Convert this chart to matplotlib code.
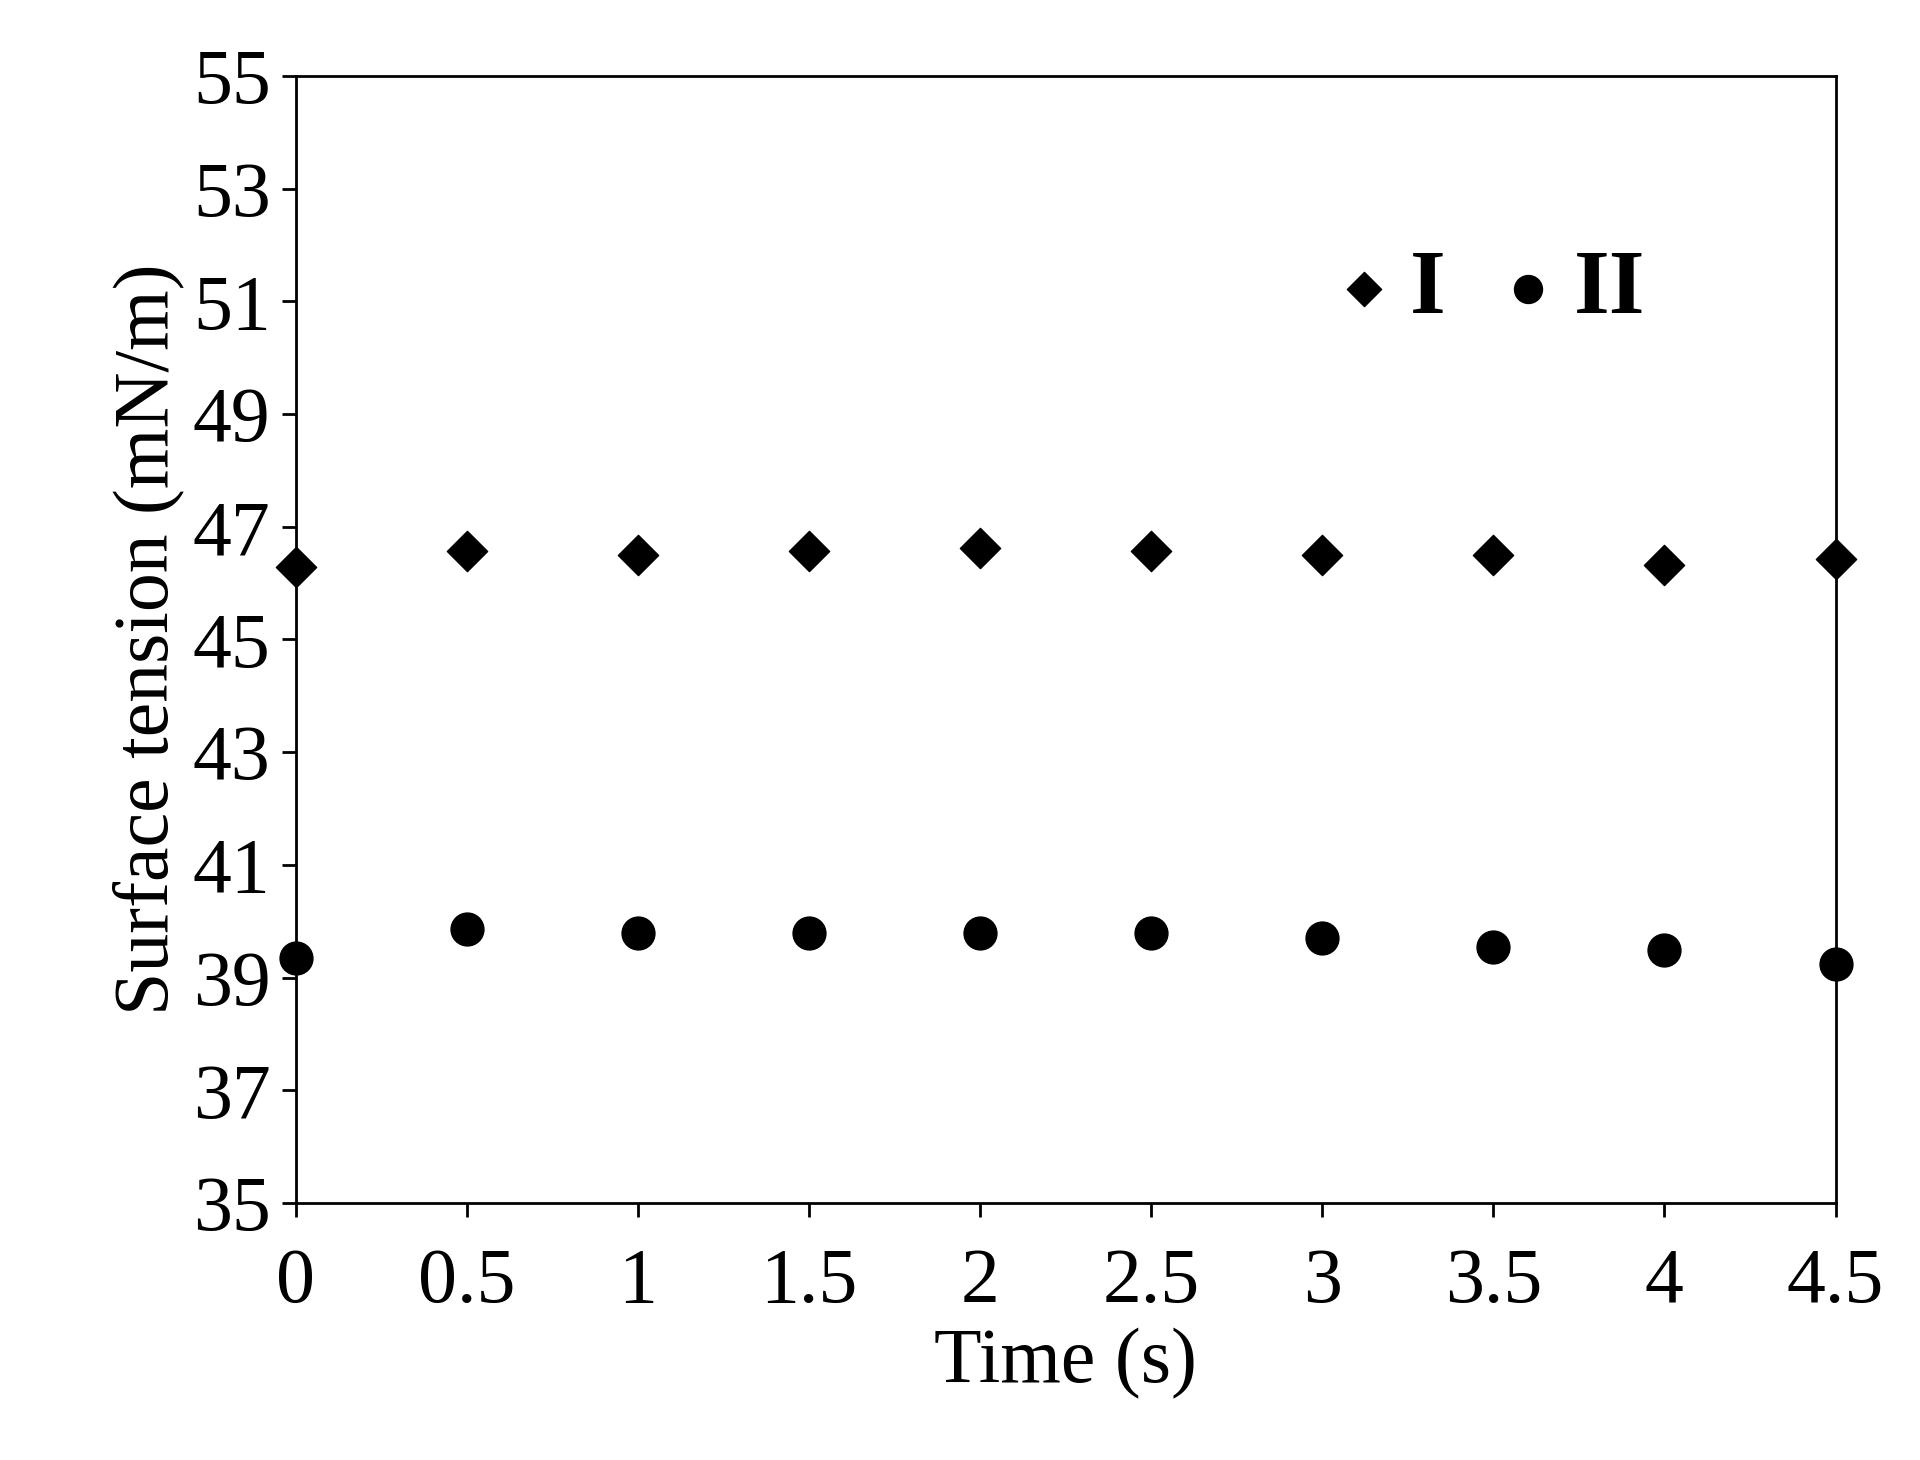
import matplotlib
matplotlib.use('Agg')
import matplotlib.pyplot as plt

time_s = [0, 0.5, 1, 1.5, 2, 2.5, 3, 3.5, 4, 4.5]
series_i = [46.28, 46.57, 46.5, 46.57, 46.63, 46.57, 46.5, 46.5, 46.33, 46.42]
series_ii = [39.34, 39.86, 39.79, 39.79, 39.79, 39.79, 39.7, 39.55, 39.49, 39.25]
x_ticks = [0, 0.5, 1, 1.5, 2, 2.5, 3, 3.5, 4, 4.5]
x_labels = ['0', '0.5', '1', '1.5', '2', '2.5', '3', '3.5', '4', '4.5']
y_ticks = list(range(35, 56, 2))

plt.rcParams['font.family'] = ['Liberation Serif', 'DejaVu Serif']

fig = plt.figure(figsize=(19.2, 14.6), dpi=100)
ax = fig.add_axes([0.154, 0.176, 0.802, 0.772])

ax.scatter(time_s, series_i, marker='D', s=420, color='black', label='I', clip_on=False, zorder=3)
ax.scatter(time_s, series_ii, marker='o', s=560, color='black', label='II', clip_on=False, zorder=3)

ax.set_xlim(0, 4.5)
ax.set_ylim(35, 55)
ax.set_xticks(x_ticks)
ax.set_xticklabels(x_labels)
ax.set_yticks(y_ticks)
ax.tick_params(axis='both', labelsize=56, direction='out', length=10, width=2)
ax.tick_params(axis='x', pad=22)
ax.tick_params(axis='y', pad=8)
for s in ax.spines.values():
    s.set_linewidth(2)

ax.set_xlabel('Time (s)', fontsize=56, labelpad=6)
ax.set_ylabel('Surface tension (mN/m)', fontsize=56, labelpad=6)

leg = ax.legend(loc='upper right', bbox_to_anchor=(0.93, 0.92), ncol=2, frameon=False,
                prop={'size': 66, 'weight': 'bold'}, handletextpad=0.0,
                columnspacing=0.4, markerscale=0.85, handlelength=1.0)

fig.savefig('out.png', dpi=100)
